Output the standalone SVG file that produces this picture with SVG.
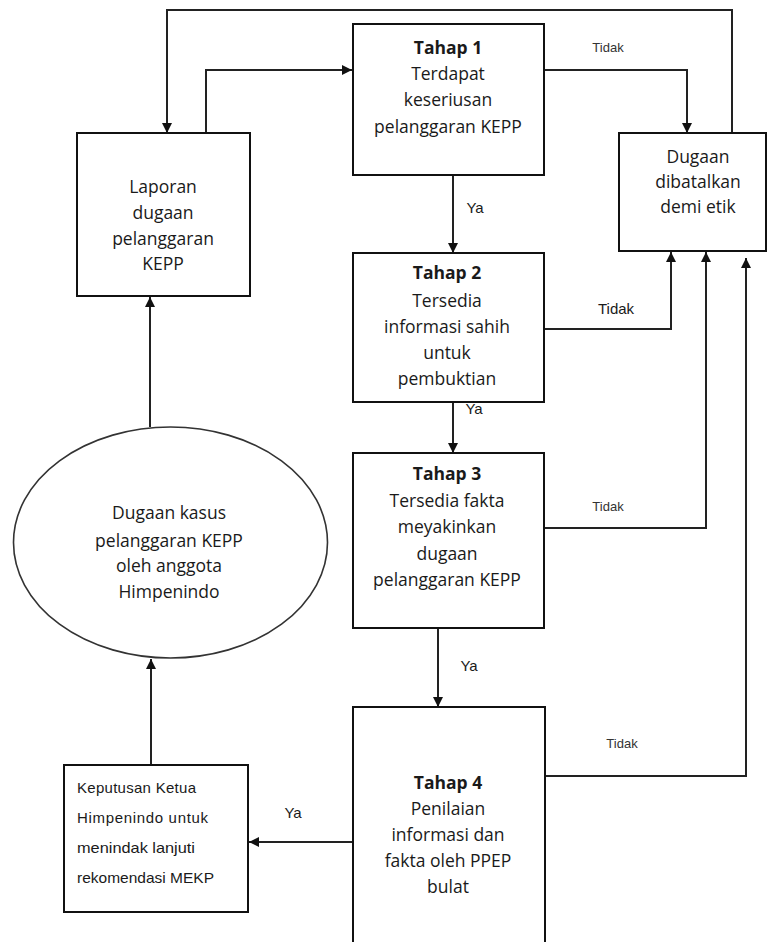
<svg xmlns="http://www.w3.org/2000/svg" width="767" height="942" viewBox="0 0 767 942">
<style>
.box{fill:#fff;stroke:#111;stroke-width:2}
.ell{fill:#fff;stroke:#333;stroke-width:1.6}
.t{font-family:"Open Sans","Liberation Sans",sans-serif;font-size:17.5px;fill:#1a1a1a;text-anchor:middle}
.b{font-weight:bold}
.lbl{font-family:"Liberation Sans","Open Sans",sans-serif;font-size:15px;fill:#1a1a1a;text-anchor:middle}
.sm{font-size:13px;fill:#333}
.k{font-family:"Liberation Sans",sans-serif;font-size:15px;fill:#1a1a1a}
.c{fill:none;stroke:#222;stroke-width:2}
</style>
<defs>
<marker id="ah" viewBox="0 0 10 10" refX="10" refY="5" markerWidth="10" markerHeight="10" markerUnits="userSpaceOnUse" orient="auto">
<path d="M0,0 L10,5 L0,10 z" fill="#111"/>
</marker>
</defs>
<rect width="767" height="942" fill="#fff"/>
<g id="connectors">
<path class="c" d="M732,133 V10 H167 V133" marker-end="url(#ah)"/>
<path class="c" d="M206,133 V70 H352" marker-end="url(#ah)"/>
<path class="c" d="M544,70 H687 V133" marker-end="url(#ah)"/>
<path class="c" d="M453,175 V253" marker-end="url(#ah)"/>
<path class="c" d="M544,329 H671 V252" marker-end="url(#ah)"/>
<path class="c" d="M453,402 V453" marker-end="url(#ah)"/>
<path class="c" d="M544,528 H706 V252" marker-end="url(#ah)"/>
<path class="c" d="M438,628 V707" marker-end="url(#ah)"/>
<path class="c" d="M545,776 H746 V258" marker-end="url(#ah)"/>
<path class="c" d="M353,842 H249" marker-end="url(#ah)"/>
<path class="c" d="M151,765 V659" marker-end="url(#ah)"/>
<path class="c" d="M150,427 V297" marker-end="url(#ah)"/>
<text class="lbl sm" x="608" y="52">Tidak</text>
<text class="lbl" x="475" y="213">Ya</text>
<text class="lbl" x="616" y="314">Tidak</text>
<text class="lbl" x="474" y="414">Ya</text>
<text class="lbl sm" x="608" y="511">Tidak</text>
<text class="lbl" x="469" y="671">Ya</text>
<text class="lbl sm" x="622" y="748">Tidak</text>
<text class="lbl" x="293" y="818">Ya</text>
</g>
<g id="laporan">
<rect class="box" x="77" y="133" width="173" height="163"/>
<text class="t" x="163" y="193">Laporan</text>
<text class="t" x="163" y="219">dugaan</text>
<text class="t" x="163" y="245">pelanggaran</text>
<text class="t" x="163" y="270">KEPP</text>
</g>
<g id="tahap1">
<rect class="box" x="353" y="24" width="191" height="151"/>
<text class="t b" x="448" y="54">Tahap 1</text>
<text class="t" x="448" y="80">Terdapat</text>
<text class="t" x="448" y="106">keseriusan</text>
<text class="t" x="448" y="133">pelanggaran KEPP</text>
</g>
<g id="dugaan-batal">
<rect class="box" x="619" y="133" width="147" height="118"/>
<text class="t" x="698" y="163">Dugaan</text>
<text class="t" x="698" y="188">dibatalkan</text>
<text class="t" x="698" y="213">demi etik</text>
</g>
<g id="tahap2">
<rect class="box" x="353" y="253" width="191" height="149"/>
<text class="t b" x="447" y="279">Tahap 2</text>
<text class="t" x="447" y="307">Tersedia</text>
<text class="t" x="447" y="333">informasi sahih</text>
<text class="t" x="447" y="359">untuk</text>
<text class="t" x="447" y="385">pembuktian</text>
</g>
<g id="tahap3">
<rect class="box" x="353" y="453" width="191" height="175"/>
<text class="t b" x="447" y="480">Tahap 3</text>
<text class="t" x="447" y="507">Tersedia fakta</text>
<text class="t" x="447" y="533">meyakinkan</text>
<text class="t" x="447" y="560">dugaan</text>
<text class="t" x="447" y="586">pelanggaran KEPP</text>
</g>
<g id="tahap4">
<rect class="box" x="353" y="707" width="192" height="245"/>
<text class="t b" x="448" y="789">Tahap 4</text>
<text class="t" x="448" y="815">Penilaian</text>
<text class="t" x="448" y="841">informasi dan</text>
<text class="t" x="448" y="867">fakta oleh PPEP</text>
<text class="t" x="448" y="893">bulat</text>
</g>
<g id="dugaan-kasus">
<ellipse class="ell" cx="170.5" cy="542.5" rx="157" ry="115.5"/>
<text class="t" x="169" y="519">Dugaan kasus</text>
<text class="t" x="169" y="547">pelanggaran KEPP</text>
<text class="t" x="169" y="572">oleh anggota</text>
<text class="t" x="169" y="598">Himpenindo</text>
</g>
<g id="keputusan">
<rect class="box" x="64" y="765" width="184" height="147"/>
<text class="k" x="77" y="793" textLength="119" lengthAdjust="spacing">Keputusan Ketua</text>
<text class="k" x="77" y="823" textLength="131" lengthAdjust="spacing">Himpenindo untuk</text>
<text class="k" x="77" y="853" textLength="118" lengthAdjust="spacingAndGlyphs">menindak lanjuti</text>
<text class="k" x="77" y="883" textLength="137" lengthAdjust="spacingAndGlyphs">rekomendasi MEKP</text>
</g>
</svg>
